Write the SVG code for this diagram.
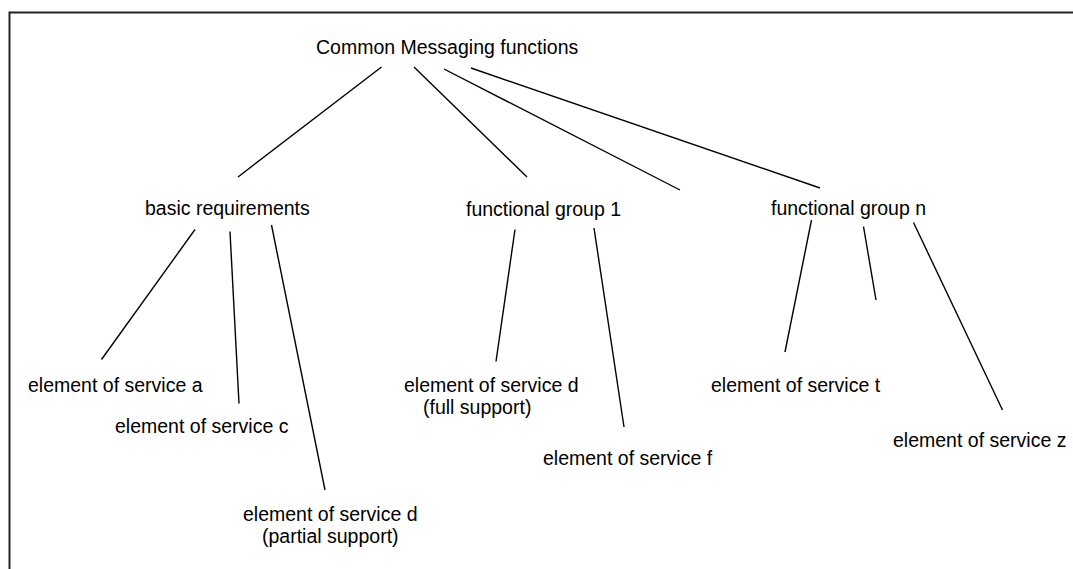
<svg xmlns="http://www.w3.org/2000/svg" width="1073" height="569" viewBox="0 0 1073 569">
<style>
text{font-family:"Liberation Sans",Arial,sans-serif;font-size:19.5px;fill:#000}
.c line{stroke:#000;stroke-width:1.4;fill:none}
.frame{stroke:#222;stroke-width:2;fill:none}
</style>
<rect width="1073" height="569" fill="#fff"/>
<path class="frame" d="M9.5 569 V12.5 H1073"/>
<g id="connectors" class="c">
<line x1="381.5" y1="67" x2="238" y2="177"/>
<line x1="414" y1="67" x2="527" y2="177"/>
<line x1="444" y1="69" x2="680" y2="190"/>
<line x1="471" y1="68" x2="820" y2="188"/>
<line x1="195" y1="229.5" x2="101.5" y2="359.5"/>
<line x1="230" y1="231.5" x2="239" y2="403.5"/>
<line x1="271.5" y1="225" x2="325" y2="490"/>
<line x1="515" y1="229.5" x2="496" y2="361.5"/>
<line x1="594" y1="228" x2="624" y2="427"/>
<line x1="811.5" y1="220" x2="785" y2="352"/>
<line x1="863.5" y1="226.5" x2="876" y2="300"/>
<line x1="913.5" y1="222.5" x2="1002.5" y2="410"/>
</g>
<g id="root"><text x="316" y="54">Common Messaging functions</text></g>
<g id="basic"><text x="145" y="215">basic requirements</text></g>
<g id="fg1"><text x="466" y="216">functional group 1</text></g>
<g id="fgn"><text x="771" y="215">functional group n</text></g>
<g id="esa"><text x="28" y="392">element of service a</text></g>
<g id="esc"><text x="115" y="433">element of service c</text></g>
<g id="esd-partial"><text x="243" y="521">element of service d</text><text x="262" y="543">(partial support)</text></g>
<g id="esd-full"><text x="404" y="392">element of service d</text><text x="423" y="414">(full support)</text></g>
<g id="esf"><text x="543" y="465">element of service f</text></g>
<g id="est"><text x="711" y="392">element of service t</text></g>
<g id="esz"><text x="893" y="447">element of service z</text></g>
</svg>
